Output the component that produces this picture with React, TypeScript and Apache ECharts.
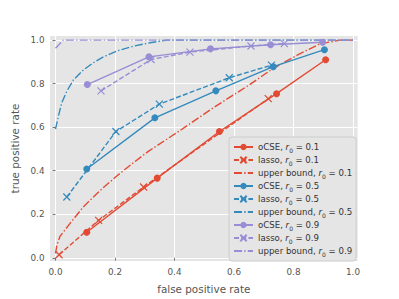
import React, { useEffect, useRef } from "react";
import * as echarts from "echarts";

// ---- data (x = false positive rate, y = true positive rate)
const ocse01: number[][] = [[0.105, 0.117], [0.342, 0.366], [0.551, 0.580], [0.743, 0.754], [0.908, 0.910]];
const lasso01: number[][] = [[0.012, 0.014], [0.145, 0.172], [0.296, 0.325], [0.715, 0.731]];
const upper01: number[][] = [
  [0.0, 0.02], [0.005, 0.06], [0.015, 0.098], [0.049, 0.158], [0.093, 0.233], [0.15, 0.309],
  [0.206, 0.376], [0.262, 0.437], [0.312, 0.489], [0.418, 0.584], [0.53, 0.689], [0.643, 0.787],
  [0.732, 0.87], [0.811, 0.93], [0.889, 0.983], [0.956, 1.0], [1.0, 1.0],
];
const ocse05: number[][] = [[0.105, 0.408], [0.334, 0.643], [0.539, 0.767], [0.732, 0.878], [0.904, 0.956]];
const lasso05: number[][] = [[0.038, 0.279], [0.203, 0.580], [0.349, 0.706], [0.584, 0.827], [0.726, 0.885]];
const upper05: number[][] = [
  [0.0, 0.591], [0.01, 0.652], [0.021, 0.712], [0.038, 0.765], [0.06, 0.817], [0.093, 0.862],
  [0.127, 0.896], [0.161, 0.923], [0.206, 0.95], [0.262, 0.972], [0.318, 0.988], [0.374, 1.0], [1.0, 1.0],
];
const ocse09: number[][] = [[0.107, 0.796], [0.314, 0.923], [0.521, 0.96], [0.723, 0.979], [0.898, 0.99]];
const lasso09: number[][] = [[0.153, 0.767], [0.321, 0.911], [0.452, 0.945], [0.657, 0.973], [0.769, 0.984]];
const upper09: number[][] = [[0.0, 0.963], [0.026, 1.0], [1.0, 1.0]];

const tickValues = [0, 0.2, 0.4, 0.6, 0.8, 1.0];
const rValues = ["0.1", "0.5", "0.9"];
const colors = ["#E24A33", "#348ABD", "#988ED5"];

const FONT = "DejaVu Sans";
const X_SYMBOL = "path://M0,0L10,10M10,0L0,10";

export default function App() {
  const ref = useRef<HTMLDivElement>(null);
  useEffect(() => {
    if (!ref.current) return;
    const chart = echarts.init(ref.current, undefined, { renderer: "svg" });
    const groups = [
      [ocse01, lasso01, upper01],
      [ocse05, lasso05, upper05],
      [ocse09, lasso09, upper09],
    ];
    const series: any[] = [];
    const legendData: any[] = [];
    groups.forEach((g, i) => {
      const c = colors[i];
      const r = rValues[i];
      series.push({
        name: `oCSE, r0 = ${r}`,
        type: "line",
        data: g[0],
        color: c,
        symbol: "circle",
        symbolSize: 7,
        lineStyle: { width: 1.4, color: c, type: "solid" },
        itemStyle: { color: c },
      });
      series.push({
        name: `lasso, r0 = ${r}`,
        type: "line",
        data: g[1],
        color: c,
        symbol: X_SYMBOL,
        symbolSize: 7,
        lineStyle: { width: 1.4, color: c, type: [5, 2.2] },
        itemStyle: { color: c, borderColor: c, borderWidth: 1.2 },
      });
      series.push({
        name: `upper bound, r0 = ${r}`,
        type: "line",
        data: g[2],
        color: c,
        symbol: "circle",
        showSymbol: false,
        lineStyle: { width: 1.4, color: c, type: [8, 2.2, 1.4, 2.2] },
      });
      legendData.push({ name: `oCSE, r0 = ${r}` });
      legendData.push({ name: `lasso, r0 = ${r}` });
      legendData.push({ name: `upper bound, r0 = ${r}`, itemStyle: { opacity: 0 } });
    });
    series.forEach((s) => {
      s.animation = false;
      s.silent = true;
    });

    chart.setOption({
      animation: false,
      backgroundColor: "#ffffff",
      textStyle: { fontFamily: FONT },
      grid: { left: 50, top: 36, right: 41.3, bottom: 34, show: true, backgroundColor: "#E5E5E5", borderWidth: 0 },
      xAxis: {
        type: "value",
        min: -0.0185,
        max: 1.0158,
        name: "false positive rate",
        nameLocation: "middle",
        nameGap: 23,
        nameTextStyle: { color: "#555555", fontSize: 10.4, fontFamily: FONT },
        axisLine: { show: false },
        axisTick: { show: true, length: 3, lineStyle: { color: "#555555", width: 0.8 }, customValues: tickValues },
        axisLabel: {
          color: "#555555",
          fontSize: 8.8,
          fontFamily: FONT,
          margin: 6,
          customValues: tickValues,
          formatter: (v: number) => v.toFixed(1),
        },
        splitLine: { show: true, lineStyle: { color: "#ffffff", width: 1 } },
      },
      yAxis: {
        type: "value",
        min: -0.0149,
        max: 1.019,
        name: "true positive rate",
        nameLocation: "middle",
        nameGap: 25,
        nameTextStyle: { color: "#555555", fontSize: 10.4, fontFamily: FONT },
        axisLine: { show: false },
        axisTick: { show: true, length: 3, lineStyle: { color: "#555555", width: 0.8 }, customValues: tickValues },
        axisLabel: {
          color: "#555555",
          fontSize: 8.8,
          fontFamily: FONT,
          margin: 5.5,
          customValues: tickValues,
          formatter: (v: number) => v.toFixed(1),
        },
        splitLine: { show: true, lineStyle: { color: "#ffffff", width: 1 } },
      },
      legend: {
        orient: "vertical",
        left: 229,
        top: 137,
        padding: [3.5, 4, 3.5, 4],
        itemWidth: 19,
        itemHeight: 8,
        itemGap: 0,
        data: legendData,
        backgroundColor: "#E5E5E5",
        borderColor: "#CCCCCC",
        borderWidth: 1,
        borderRadius: 3,
        selectedMode: false,
        textStyle: {
          color: "#333333",
          fontSize: 8.6,
          fontFamily: FONT,
          lineHeight: 13,
          rich: {
            i: { fontStyle: "italic", fontSize: 8.6, fontFamily: FONT, color: "#333333", lineHeight: 13 },
            s: { fontSize: 6, fontFamily: FONT, color: "#333333", lineHeight: 13, verticalAlign: "bottom", padding: [3, 0, 0, 0] },
          },
        },
        formatter: (name: string) => name.replace("r0", "{i|r}{s|0}"),
      },
      series,
    });
    return () => chart.dispose();
  }, []);
  return <div ref={ref} style={{ position: "fixed", left: 0, top: 0, width: 399, height: 299 }} />;
}
